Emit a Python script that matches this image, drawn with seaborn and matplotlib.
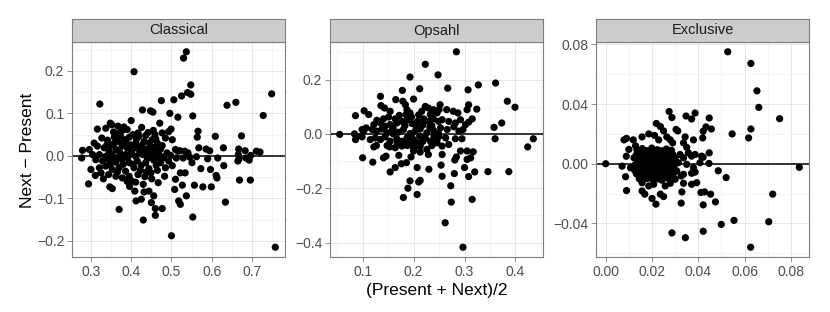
import matplotlib
matplotlib.use("Agg")
import matplotlib.pyplot as plt
import numpy as np
import pandas as pd
import seaborn as sns

# ---------------- data: (mean of present & next, next - present) ----------------
classical_pts = [
    (0.407, 0.198), (0.322, 0.122), (0.475, 0.130), (0.506, 0.132), (0.428, 0.108), (0.448, 0.106),
    (0.454, 0.103), (0.496, 0.100), (0.516, 0.091), (0.400, 0.083), (0.348, 0.077), (0.352, 0.073),
    (0.316, 0.063), (0.337, 0.065), (0.382, 0.068), (0.390, 0.062), (0.426, 0.067), (0.471, 0.077),
    (0.455, 0.060), (0.499, 0.063), (0.493, 0.057), (0.378, 0.060), (0.370, 0.054), (0.404, 0.050),
    (0.419, 0.046), (0.436, 0.048), (0.442, 0.055), (0.459, 0.050), (0.477, 0.054), (0.485, 0.042),
    (0.327, 0.042), (0.341, 0.037), (0.358, 0.044), (0.366, 0.034), (0.386, 0.038), (0.411, 0.030),
    (0.432, 0.034), (0.452, 0.038), (0.465, 0.030), (0.477, 0.024), (0.502, 0.038),
    (0.279, 0.013), (0.296, 0.015), (0.304, 0.003), (0.277, -0.005), (0.316, 0.023), (0.333, 0.019),
    (0.349, 0.024), (0.362, 0.015), (0.377, 0.023), (0.390, 0.019), (0.401, 0.011), (0.419, 0.021),
    (0.436, 0.015), (0.448, 0.023), (0.460, 0.011), (0.473, 0.016), (0.489, 0.007), (0.510, 0.015),
    (0.516, 0.011), (0.321, 0.003), (0.337, -0.001), (0.353, 0.003), (0.370, -0.002), (0.386, 0.003),
    (0.411, -0.001), (0.428, 0.003), (0.452, -0.001), (0.469, 0.003), (0.481, -0.002), (0.498, 0.001),
    (0.512, -0.005), (0.312, -0.009), (0.329, -0.012), (0.345, -0.009), (0.362, -0.015), (0.378, -0.009),
    (0.395, -0.016), (0.415, -0.012), (0.436, -0.016), (0.456, -0.010), (0.473, -0.016), (0.493, -0.012),
    (0.300, -0.032), (0.321, -0.028), (0.337, -0.024), (0.353, -0.032), (0.370, -0.028), (0.386, -0.036),
    (0.407, -0.028), (0.423, -0.034), (0.444, -0.030), (0.465, -0.034), (0.485, -0.028), (0.502, -0.023),
    (0.311, -0.046), (0.331, -0.054), (0.344, -0.044), (0.362, -0.048), (0.378, -0.052), (0.395, -0.048),
    (0.401, -0.059), (0.434, -0.049), (0.451, -0.054), (0.467, -0.063), (0.483, -0.048), (0.510, -0.055),
    (0.522, -0.040), (0.294, -0.066), (0.347, -0.073), (0.353, -0.077), (0.411, -0.062), (0.430, -0.067),
    (0.409, -0.083), (0.444, -0.083), (0.456, -0.094), (0.412, -0.106), (0.425, -0.102), (0.450, -0.110),
    (0.460, -0.124), (0.477, -0.124), (0.370, -0.126), (0.430, -0.151), (0.460, -0.140), (0.500, -0.188),
    (0.508, -0.079), (0.518, -0.106), (0.522, -0.114),
    (0.356, 0.056), (0.374, 0.046), (0.395, 0.044), (0.413, 0.039), (0.427, 0.025), (0.445, 0.030),
    (0.461, 0.040), (0.340, 0.027), (0.357, 0.029), (0.372, 0.008), (0.381, 0.031), (0.397, 0.026),
    (0.406, 0.018), (0.421, 0.010), (0.441, 0.006), (0.457, 0.020), (0.464, -0.004), (0.345, 0.010),
    (0.358, -0.006), (0.380, -0.020), (0.391, -0.004), (0.404, -0.020), (0.425, -0.022), (0.440, -0.006),
    (0.449, -0.040), (0.462, -0.022), (0.478, -0.006), (0.348, -0.020), (0.366, -0.038), (0.390, -0.060),
    (0.417, -0.044), (0.438, -0.038), (0.325, -0.040), (0.308, 0.030), (0.398, 0.004), (0.417, 0.054),
    (0.446, 0.013), (0.367, 0.070), (0.432, -0.085), (0.396, -0.072),
    (0.537, 0.245), (0.530, 0.230), (0.548, 0.167), (0.525, 0.141), (0.540, 0.149), (0.548, 0.145),
    (0.749, 0.146), (0.638, 0.119), (0.660, 0.126), (0.728, 0.095), (0.553, 0.094), (0.566, 0.058),
    (0.564, 0.044), (0.609, 0.046), (0.674, 0.047), (0.568, 0.019), (0.586, 0.016), (0.595, 0.012),
    (0.629, 0.019), (0.667, 0.016), (0.683, 0.012), (0.711, 0.011), (0.720, 0.009), (0.521, 0.012),
    (0.533, 0.011), (0.541, 0.007), (0.529, -0.005), (0.545, -0.003), (0.562, -0.002), (0.590, -0.007),
    (0.615, -0.005), (0.666, 0.003), (0.668, -0.007), (0.685, -0.005), (0.697, 0.001), (0.693, -0.010),
    (0.665, -0.012), (0.551, -0.016), (0.630, -0.023), (0.573, -0.030), (0.597, -0.032), (0.534, -0.040),
    (0.611, -0.046), (0.613, -0.052), (0.527, -0.069), (0.557, -0.069), (0.578, -0.073), (0.599, -0.073),
    (0.669, -0.057), (0.696, -0.057), (0.537, -0.094), (0.634, -0.109), (0.553, -0.144), (0.758, -0.215),
]

opsahl_pts = [
    (0.055, -0.002), (0.223, 0.256), (0.193, 0.209), (0.212, 0.166), (0.178, 0.160), (0.135, 0.138),
    (0.165, 0.126), (0.136, 0.104), (0.143, 0.095), (0.179, 0.120), (0.184, 0.107), (0.200, 0.128),
    (0.154, 0.083), (0.086, 0.067), (0.103, 0.085), (0.112, 0.071), (0.187, 0.089), (0.193, 0.077),
    (0.185, 0.071), (0.223, 0.101), (0.229, 0.095), (0.239, 0.089), (0.216, 0.083), (0.233, 0.071),
    (0.246, 0.077), (0.141, 0.055), (0.151, 0.062), (0.164, 0.055), (0.128, 0.050), (0.122, 0.034),
    (0.135, 0.040), (0.144, 0.028), (0.154, 0.034), (0.167, 0.040), (0.177, 0.046), (0.187, 0.052),
    (0.197, 0.038), (0.208, 0.046), (0.220, 0.055), (0.229, 0.046), (0.239, 0.055), (0.249, 0.046),
    (0.099, 0.016), (0.107, 0.022), (0.102, 0.010), (0.084, 0.000), (0.089, -0.009), (0.086, -0.021),
    (0.099, -0.011), (0.115, -0.021), (0.119, 0.016), (0.128, 0.010), (0.138, 0.018), (0.148, 0.004),
    (0.158, 0.013), (0.171, 0.006), (0.180, 0.016), (0.193, 0.001), (0.203, 0.010), (0.213, 0.018),
    (0.226, 0.004), (0.239, 0.013), (0.249, 0.001), (0.125, -0.015), (0.135, -0.021), (0.144, -0.011),
    (0.154, -0.027), (0.167, -0.018), (0.177, -0.027), (0.187, -0.015), (0.200, -0.021), (0.209, -0.033),
    (0.223, -0.015), (0.233, -0.027), (0.246, -0.021), (0.122, -0.048), (0.127, -0.043), (0.148, -0.043),
    (0.153, -0.048), (0.164, -0.051), (0.177, -0.045), (0.188, -0.043), (0.200, -0.051), (0.213, -0.045),
    (0.226, -0.057), (0.236, -0.043), (0.200, -0.063), (0.213, -0.067), (0.229, -0.076), (0.141, -0.088),
    (0.146, -0.082), (0.100, -0.088), (0.120, -0.104), (0.171, -0.079), (0.195, -0.085), (0.176, -0.110),
    (0.186, -0.106), (0.164, -0.124), (0.154, -0.140), (0.207, -0.124), (0.230, -0.130), (0.193, -0.173),
    (0.213, -0.171), (0.210, -0.177), (0.189, -0.200), (0.207, -0.223), (0.180, -0.234),
    (0.196, 0.062), (0.210, 0.070), (0.172, 0.068), (0.160, 0.020), (0.183, 0.030), (0.205, 0.028),
    (0.218, 0.032), (0.232, 0.024), (0.196, -0.005), (0.212, -0.008), (0.183, -0.030), (0.218, -0.028),
    (0.240, -0.008), (0.168, -0.035), (0.195, -0.035), (0.160, 0.000), (0.205, -0.045), (0.236, 0.030),
    (0.284, 0.302), (0.248, 0.217), (0.267, 0.168), (0.307, 0.162), (0.327, 0.180), (0.361, 0.187),
    (0.384, 0.120), (0.399, 0.098), (0.252, 0.107), (0.250, 0.089), (0.265, 0.089), (0.278, 0.083),
    (0.287, 0.077), (0.308, 0.107), (0.305, 0.089), (0.324, 0.091), (0.315, 0.055), (0.308, 0.043),
    (0.302, 0.034), (0.358, 0.024), (0.373, 0.040), (0.360, -0.018), (0.424, -0.048), (0.435, -0.018),
    (0.256, 0.052), (0.269, 0.046), (0.282, 0.040), (0.292, 0.052), (0.253, 0.022), (0.266, 0.016),
    (0.279, 0.026), (0.289, 0.010), (0.297, 0.016), (0.250, -0.009), (0.263, -0.015), (0.282, -0.018),
    (0.295, -0.018), (0.246, -0.033), (0.256, -0.045), (0.269, -0.039), (0.292, -0.063), (0.305, -0.063),
    (0.317, -0.066), (0.256, -0.076), (0.284, -0.085), (0.281, -0.096), (0.312, -0.088), (0.305, -0.094),
    (0.254, -0.115), (0.300, -0.124), (0.280, -0.146), (0.256, -0.156), (0.308, -0.157), (0.320, -0.140),
    (0.346, -0.139), (0.387, -0.139), (0.273, -0.191), (0.315, -0.241), (0.274, -0.251), (0.262, -0.327),
    (0.297, -0.417),
]

exclusive_pts = [
    (0.0000, 0.0000), (0.0274, 0.0350), (0.0286, 0.0310), (0.0347, 0.0320), (0.0371, 0.0300),
    (0.0386, 0.0340), (0.0219, 0.0270), (0.0236, 0.0250), (0.0250, 0.0220), (0.0304, 0.0230),
    (0.0311, 0.0220), (0.0343, 0.0180), (0.0379, 0.0160), (0.0079, 0.0160), (0.0090, 0.0170),
    (0.0119, 0.0160), (0.0157, 0.0180), (0.0186, 0.0200), (0.0211, 0.0190), (0.0229, 0.0160),
    (0.0264, 0.0180), (0.0279, 0.0160), (0.0289, 0.0140), (0.0336, 0.0140), (0.0350, 0.0110),
    (0.0100, 0.0096), (0.0089, 0.0050), (0.0129, 0.0120), (0.0071, -0.0016), (0.0107, -0.0027),
    (0.0086, -0.0087), (0.0090, -0.0180),
    (0.0135, 0.0092), (0.0158, 0.0101), (0.0177, 0.0088), (0.0199, 0.0105), (0.0223, 0.0094),
    (0.0241, 0.0087), (0.0262, 0.0099), (0.0284, 0.0090), (0.0132, 0.0058), (0.0154, 0.0066),
    (0.0181, 0.0055), (0.0202, 0.0068), (0.0219, 0.0059), (0.0246, 0.0064), (0.0265, 0.0053),
    (0.0290, 0.0061), (0.0139, 0.0031), (0.0160, 0.0024), (0.0176, 0.0035), (0.0197, 0.0027),
    (0.0225, 0.0033), (0.0240, 0.0022), (0.0268, 0.0030), (0.0282, 0.0025), (0.0127, -0.0006),
    (0.0155, 0.0002), (0.0183, -0.0008), (0.0204, 0.0004), (0.0218, -0.0003), (0.0245, 0.0005),
    (0.0261, -0.0007), (0.0288, 0.0001), (0.0141, -0.0035), (0.0159, -0.0042), (0.0178, -0.0031),
    (0.0201, -0.0040), (0.0226, -0.0036), (0.0239, -0.0044), (0.0266, -0.0033), (0.0285, -0.0041),
    (0.0133, -0.0068), (0.0156, -0.0075), (0.0182, -0.0066), (0.0198, -0.0073), (0.0220, -0.0069),
    (0.0247, -0.0077), (0.0263, -0.0065), (0.0291, -0.0072), (0.0145, -0.0101), (0.0162, -0.0108),
    (0.0179, -0.0099), (0.0203, -0.0106), (0.0224, -0.0102), (0.0242, -0.0110), (0.0269, -0.0098),
    (0.0170, 0.0015), (0.0190, -0.0018), (0.0212, 0.0012), (0.0233, -0.0021), (0.0188, 0.0048),
    (0.0210, -0.0055), (0.0230, 0.0045), (0.0172, -0.0058), (0.0253, -0.0015), (0.0150, -0.0020),
    (0.0146, 0.0075), (0.0168, 0.0078), (0.0190, 0.0080), (0.0212, 0.0082), (0.0233, 0.0075),
    (0.0255, 0.0078), (0.0274, 0.0072), (0.0143, 0.0012), (0.0166, -0.0018), (0.0193, 0.0013),
    (0.0214, -0.0022), (0.0236, 0.0010), (0.0257, 0.0040), (0.0276, -0.0018), (0.0148, -0.0085),
    (0.0170, -0.0085), (0.0191, -0.0088), (0.0213, -0.0085), (0.0234, -0.0090), (0.0256, -0.0088),
    (0.0277, -0.0085), (0.0295, -0.0020), (0.0122, 0.0040), (0.0125, -0.0045), (0.0300, 0.0040),
    (0.0321, 0.0062), (0.0336, 0.0040), (0.0357, 0.0073), (0.0371, 0.0051), (0.0386, 0.0062),
    (0.0414, 0.0051), (0.0314, 0.0007), (0.0350, -0.0004), (0.0379, -0.0027), (0.0407, 0.0007),
    (0.0307, -0.0049), (0.0336, -0.0071), (0.0371, -0.0064), (0.0386, -0.0056), (0.0157, -0.0127),
    (0.0186, -0.0149), (0.0207, -0.0138), (0.0257, -0.0149), (0.0279, -0.0131), (0.0300, -0.0104),
    (0.0326, -0.0082), (0.0336, -0.0131), (0.0371, -0.0138), (0.0393, -0.0127), (0.0157, -0.0182),
    (0.0169, -0.0204), (0.0200, -0.0233), (0.0217, -0.0271), (0.0236, -0.0204), (0.0250, -0.0220),
    (0.0329, -0.0189), (0.0326, -0.0264), (0.0286, -0.0464), (0.0344, -0.0496), (0.0411, -0.0193),
    (0.0527, 0.0751), (0.0627, 0.0673), (0.0653, 0.0489), (0.0661, 0.0378), (0.0751, 0.0302),
    (0.0447, 0.0307), (0.0433, 0.0247), (0.0456, 0.0233), (0.0421, 0.0218), (0.0419, 0.0173),
    (0.0546, 0.0200), (0.0627, 0.0233), (0.0617, 0.0173), (0.0447, 0.0073), (0.0421, 0.0044),
    (0.0446, 0.0002), (0.0486, -0.0047), (0.0520, -0.0093), (0.0836, -0.0024), (0.0427, -0.0189),
    (0.0453, -0.0204), (0.0474, -0.0256), (0.0421, -0.0276), (0.0721, -0.0204), (0.0421, -0.0453),
    (0.0499, -0.0407), (0.0554, -0.0380), (0.0704, -0.0389), (0.0626, -0.0560),
]

panel_names = ["Classical", "Opsahl", "Exclusive"]
x_ticks = {
    "Classical": [0.3, 0.4, 0.5, 0.6, 0.7],
    "Opsahl": [0.1, 0.2, 0.3, 0.4],
    "Exclusive": [0.00, 0.02, 0.04, 0.06, 0.08],
}
y_ticks = {
    "Classical": [-0.2, -0.1, 0.0, 0.1, 0.2],
    "Opsahl": [-0.4, -0.2, 0.0, 0.2],
    "Exclusive": [-0.04, 0.00, 0.04, 0.08],
}
tick_fmt = {"Classical": "{:.1f}", "Opsahl": "{:.1f}", "Exclusive": "{:.2f}"}
x_label = "(Present + Next)/2"
y_label = "Next \u2212 Present"

frames = []
for name, pts in zip(panel_names, [classical_pts, opsahl_pts, exclusive_pts]):
    arr = np.array(pts)
    frames.append(pd.DataFrame({"method": name, "mean": arr[:, 0], "diff": arr[:, 1]}))
df = pd.concat(frames, ignore_index=True)

# ---------------- styling ----------------
sns.set_theme(style="white")
plt.rcParams["font.family"] = ["Liberation Sans", "DejaVu Sans"]
plt.rcParams["axes.unicode_minus"] = True

W, H = 830, 312
fig = plt.figure(figsize=(W / 100, H / 100), dpi=100)
fig.patch.set_facecolor("white")

panel_left_px = [72, 330, 596]
panel_w_px = 213
top_px, bottom_px, strip_top_px = 42, 257, 19

for name, lpx in zip(panel_names, panel_left_px):
    ax = fig.add_axes([lpx / W, 1 - bottom_px / H, panel_w_px / W, (bottom_px - top_px) / H])
    sub = df[df["method"] == name]
    xmin, xmax = sub["mean"].min(), sub["mean"].max()
    ymin, ymax = sub["diff"].min(), sub["diff"].max()
    xr, yr = xmax - xmin, ymax - ymin

    xt, yt = x_ticks[name], y_ticks[name]
    ax.set_xticks(xt)
    ax.set_yticks(yt)
    ax.set_xticklabels([tick_fmt[name].format(v) for v in xt])
    ax.set_yticklabels([tick_fmt[name].format(v).replace("-", "\u2212") for v in yt])
    xs = xt[1] - xt[0]
    ys = yt[1] - yt[0]
    ax.set_xticks([xt[0] - xs / 2] + [v + xs / 2 for v in xt], minor=True)
    ax.set_yticks([yt[0] - ys / 2] + [v + ys / 2 for v in yt], minor=True)

    ax.grid(True, which="major", color="#E6E6E6", linewidth=0.7)
    ax.grid(True, which="minor", color="#F4F4F4", linewidth=0.7)
    ax.set_axisbelow(True)
    ax.tick_params(which="major", length=3.5, width=0.6, color="#7F7F7F",
                   labelsize=10, labelcolor="#4D4D4D", pad=2,
                   bottom=True, left=True)
    ax.tick_params(which="minor", length=0)
    for sp in ax.spines.values():
        sp.set_color("#7F7F7F")
        sp.set_linewidth(0.8)

    ax.axhline(0, color="black", linewidth=1.1, zorder=2)
    sns.scatterplot(data=sub, x="mean", y="diff", ax=ax, color="black",
                    s=27, edgecolor="none", linewidth=0, zorder=3, legend=False)
    ax.set_xlim(xmin - 0.05 * xr, xmax + 0.05 * xr)
    ax.set_ylim(ymin - 0.05 * yr, ymax + 0.05 * yr)
    ax.set_xlabel("")
    ax.set_ylabel("")

    sax = fig.add_axes([lpx / W, 1 - top_px / H, panel_w_px / W, (top_px - strip_top_px) / H])
    sax.set_facecolor("#CCCCCC")
    sax.set_xticks([])
    sax.set_yticks([])
    for sp in sax.spines.values():
        sp.set_color("#7F7F7F")
        sp.set_linewidth(0.8)
    sax.text(0.5, 0.5, name, ha="center", va="center", fontsize=10.5,
             color="#1A1A1A", transform=sax.transAxes)

fig.text(28 / W, 1 - 150 / H, y_label, rotation=90, ha="center", va="center",
         fontsize=12.5, color="black")
fig.text((330 + 543) / 2 / W, 1 - 290 / H, x_label, ha="center", va="center",
         fontsize=12.5, color="black")

fig.savefig("out.png", dpi=100, facecolor="white")
